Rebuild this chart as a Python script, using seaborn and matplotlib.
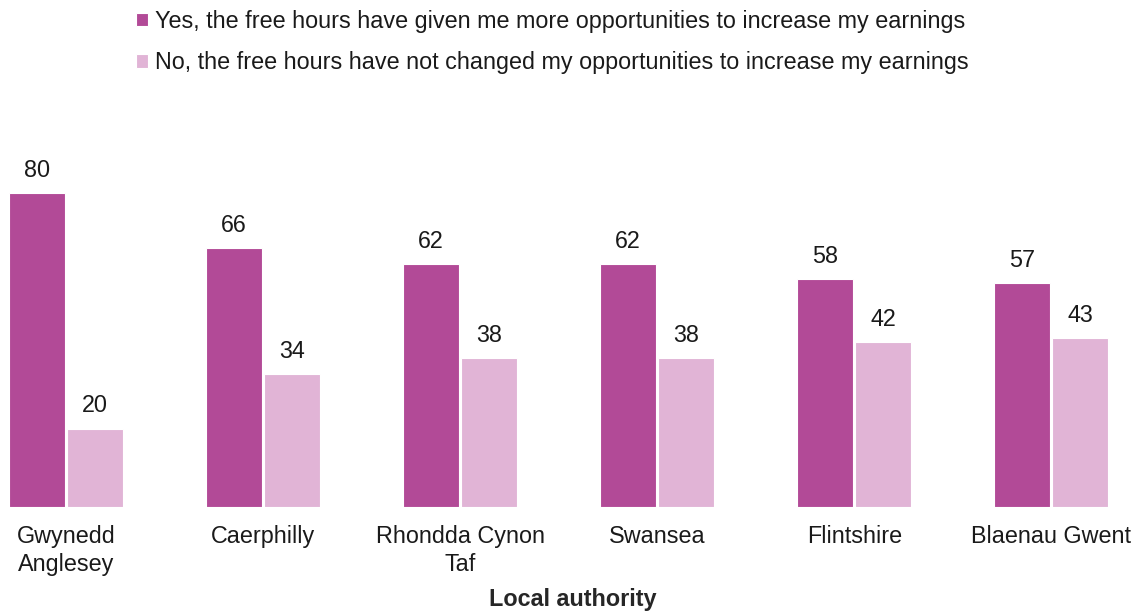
import matplotlib
matplotlib.use("Agg")
import matplotlib.pyplot as plt
import seaborn as sns
import pandas as pd

authorities = ["Gwynedd\nAnglesey", "Caerphilly", "Rhondda Cynon\nTaf", "Swansea",
               "Flintshire", "Blaenau Gwent"]
yes_values = [80, 66, 62, 62, 58, 57]
no_values = [20, 34, 38, 38, 42, 43]
series_names = [
    "Yes, the free hours have given me more opportunities to increase my earnings",
    "No, the free hours have not changed my opportunities to increase my earnings",
]
colors = ["#B24A97", "#E1B4D6"]

df = pd.DataFrame({
    "authority": authorities * 2,
    "value": yes_values + no_values,
    "response": [series_names[0]] * len(authorities) + [series_names[1]] * len(authorities),
})

sns.set_theme(style="white")
plt.rcParams["font.family"] = ["Liberation Sans", "DejaVu Sans"]

fs = 16.8
fig = plt.figure(figsize=(11.48, 6.14), dpi=100)
ax = fig.add_axes([5 / 1148, 107 / 614, 1135 / 1148, 357 / 614])

sns.barplot(data=df, x="authority", y="value", hue="response",
            palette=colors, saturation=1, width=0.59, gap=0.04, edgecolor="white",
            linewidth=0.8, ax=ax, legend=True)

for container in ax.containers:
    ax.bar_label(container, fmt="%d", padding=8, fontsize=fs, color="#1a1a1a")

ax.set_xlim(-0.31, 5.45)
ax.set_ylim(0, 91)
ax.set_yticks([])
ax.set_ylabel("")
ax.set_xlabel("Local authority", fontsize=fs, fontweight="bold", labelpad=9)
ax.tick_params(axis="x", length=0, pad=13, labelsize=fs, labelcolor="#1a1a1a")
for lbl in ax.get_xticklabels():
    lbl.set_linespacing(1.25)
for s in ax.spines.values():
    s.set_visible(False)

handles, labels = ax.get_legend_handles_labels()
ax.get_legend().remove()
fig.legend(handles, labels, loc="upper left", bbox_to_anchor=(136 / 1148, 1 - 10 / 614),
           frameon=False, fontsize=fs, handlelength=0.5, handleheight=0.5,
           handletextpad=0.3, labelspacing=0.78, borderpad=0, borderaxespad=0,
           labelcolor="#1a1a1a")

fig.savefig("out.png", dpi=100)
